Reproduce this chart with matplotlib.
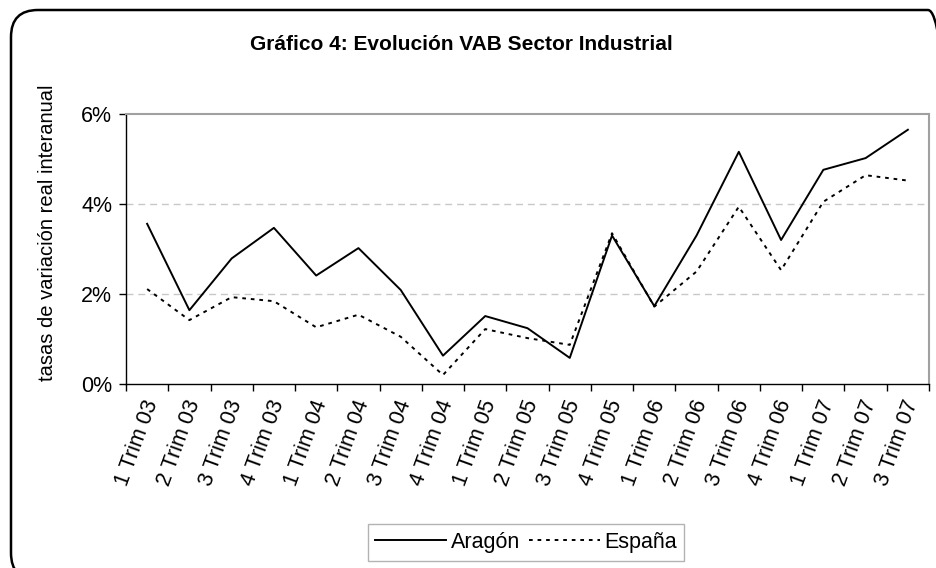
import matplotlib
matplotlib.use("Agg")
import matplotlib.pyplot as plt
import matplotlib.transforms as mtransforms
from matplotlib.patches import FancyBboxPatch
from matplotlib.ticker import FuncFormatter

plt.rcParams["font.family"] = ["Liberation Sans", "DejaVu Sans"]

# --- data ---
trimestres = [
    "1 Trim 03", "2 Trim 03", "3 Trim 03", "4 Trim 03",
    "1 Trim 04", "2 Trim 04", "3 Trim 04", "4 Trim 04",
    "1 Trim 05", "2 Trim 05", "3 Trim 05", "4 Trim 05",
    "1 Trim 06", "2 Trim 06", "3 Trim 06", "4 Trim 06",
    "1 Trim 07", "2 Trim 07", "3 Trim 07",
]
aragon = [3.56, 1.64, 2.79, 3.47, 2.41, 3.02, 2.09, 0.63, 1.51, 1.24,
          0.58, 3.30, 1.73, 3.30, 5.16, 3.20, 4.76, 5.02, 5.65]
espana = [2.11, 1.42, 1.93, 1.84, 1.26, 1.54, 1.05, 0.20, 1.22, 1.02,
          0.87, 3.35, 1.72, 2.50, 3.94, 2.53, 4.05, 4.64, 4.52]
y_ticks = [0, 2, 4, 6]

fig = plt.figure(figsize=(9.36, 5.68), dpi=100)
ax = fig.add_axes([126 / 936, 1 - 384 / 568, (929 - 126) / 936, (384 - 114) / 568])

x = list(range(len(trimestres)))
ax.plot(x, aragon, color="black", lw=1.4, label="Aragón")
ax.plot(x, espana, color="black", lw=1.4, linestyle=(0, (1.9, 2.5)), label="España")

ax.set_xlim(-0.5, len(trimestres) - 0.5)
ax.set_ylim(0, 6)

# y axis
ax.set_yticks(y_ticks)
ax.yaxis.set_major_formatter(FuncFormatter(lambda v, p: f"{v:.0f}%"))
ax.tick_params(axis="y", length=5, width=1, labelsize=15.5, pad=5)
for g in [2, 4]:
    ax.axhline(g, color="#c8c8c8", lw=1.0, linestyle=(0, (5, 3.5)), zorder=0)

# x axis: labels at centres, tick marks at category borders
ax.set_xticks(x)
ax.set_xticklabels(trimestres, rotation=70, ha="right", va="center",
                   rotation_mode="anchor", fontsize=15.5)
ax.tick_params(axis="x", which="major", length=0, pad=12)
ax.set_xticks([i - 0.5 for i in range(len(trimestres) + 1)], minor=True)
ax.tick_params(axis="x", which="minor", length=5, width=1)
shift = mtransforms.ScaledTranslation(5 / 100, 0, fig.dpi_scale_trans)
for lab in ax.get_xticklabels():
    lab.set_transform(lab.get_transform() + shift)

for side in ["left", "bottom"]:
    ax.spines[side].set_color("black")
    ax.spines[side].set_linewidth(1.0)
for side in ["top", "right"]:
    ax.spines[side].set_color("#a0a0a0")
    ax.spines[side].set_linewidth(1.5)

fig.text(48 / 936, 1 - 233 / 568, "tasas de variación real interanual",
         rotation=90, ha="center", va="center", fontsize=14.5)
fig.text(461 / 936, 1 - 45 / 568, "Gráfico 4: Evolución VAB Sector Industrial",
         ha="center", va="center", fontsize=15, fontweight="bold")

leg = ax.legend(loc="center", bbox_to_anchor=(526 / 936, 1 - 542.5 / 568),
                bbox_transform=fig.transFigure, ncol=2, fontsize=15.5,
                frameon=True, fancybox=False, edgecolor="#a0a0a0",
                handlelength=3.3, handletextpad=0.2, columnspacing=0.4,
                borderpad=0.35, borderaxespad=0)
leg.get_frame().set_linewidth(1.0)

# rounded outer chart frame (runs past the right and bottom edges)
frame = FancyBboxPatch((0.11, -0.12), 9.44, 5.70,
                       boxstyle="round,pad=0,rounding_size=0.27",
                       transform=fig.dpi_scale_trans, fill=False,
                       edgecolor="black", lw=1.8, clip_on=False)
fig.add_artist(frame)

fig.savefig("out.png", dpi=100)
